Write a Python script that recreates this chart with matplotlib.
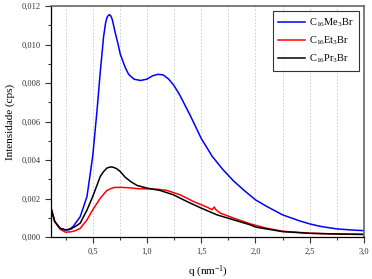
import matplotlib
matplotlib.use('Agg')
import matplotlib.pyplot as plt
from matplotlib.ticker import MultipleLocator, FuncFormatter

plt.rcParams['font.family'] = ['Liberation Serif', 'DejaVu Serif']
plt.rcParams['mathtext.fontset'] = 'custom'
plt.rcParams['mathtext.rm'] = 'Liberation Serif'
plt.rcParams['mathtext.it'] = 'Liberation Serif:italic'

# values
q_me = [0.12, 0.15, 0.2, 0.25, 0.28, 0.32, 0.385, 0.447, 0.5, 0.54, 0.57, 0.6,
        0.618, 0.631, 0.643, 0.655, 0.667, 0.68, 0.708, 0.73, 0.754, 0.78, 0.8,
        0.83, 0.88, 0.94, 1.0, 1.05, 1.1, 1.15, 1.2, 1.245, 1.3, 1.4, 1.5, 1.6,
        1.7, 1.8, 1.9, 2.0, 2.1, 2.25, 2.4, 2.5, 2.6, 2.75, 2.9, 3.0]
i_me = [0.00141, 0.0008, 0.00045, 0.00037, 0.00037, 0.00055, 0.00106, 0.0021,
        0.0042, 0.0066, 0.0086, 0.0104, 0.0111, 0.0114, 0.0115, 0.01155, 0.01148,
        0.0113, 0.0106, 0.0101, 0.0095, 0.0091, 0.0088, 0.00846, 0.0082,
        0.00813, 0.0082, 0.00837, 0.00845, 0.00842, 0.0082, 0.0079, 0.0074,
        0.0063, 0.00512, 0.0042, 0.0035, 0.0029, 0.0024, 0.00193, 0.0016,
        0.00115, 0.00085, 0.00068, 0.00055, 0.00042, 0.00036, 0.00033]

q_et = [0.12, 0.15, 0.2, 0.25, 0.3, 0.34, 0.385, 0.447, 0.5, 0.57, 0.631, 0.692,
        0.754, 0.83, 0.92, 1.006, 1.1, 1.184, 1.307, 1.43, 1.553, 1.6, 1.62,
        1.635, 1.676, 1.8, 1.953, 2.1, 2.25, 2.5, 2.75, 3.0]
i_et = [0.00141, 0.0008, 0.0004, 0.00025, 0.00027, 0.00033, 0.00045, 0.00089,
        0.00141, 0.00202, 0.00242, 0.00257, 0.00258, 0.00256, 0.00251, 0.0025,
        0.00248, 0.00242, 0.00219, 0.00184, 0.00155, 0.00142, 0.00156, 0.00142,
        0.00124, 0.00098, 0.00068, 0.00046, 0.0003, 0.0002, 0.00015, 0.00013]

q_pr = [0.12, 0.15, 0.2, 0.246, 0.3, 0.34, 0.385, 0.447, 0.5, 0.54, 0.57, 0.6,
        0.631, 0.655, 0.677, 0.7, 0.72, 0.754, 0.8, 0.85, 0.908, 1.0, 1.12,
        1.245, 1.37, 1.5, 1.646, 1.8, 1.953, 2.0, 2.1, 2.25, 2.5, 2.75, 3.0]
i_pr = [0.00141, 0.0008, 0.00045, 0.00037, 0.00042, 0.00055, 0.00072, 0.0014,
        0.0021, 0.0027, 0.00315, 0.0034, 0.00358, 0.00363, 0.00364, 0.0036,
        0.00355, 0.0034, 0.0031, 0.00288, 0.00268, 0.00254, 0.00242, 0.00219,
        0.00184, 0.0015, 0.00115, 0.00089, 0.00063, 0.00052, 0.00042, 0.00028,
        0.00019, 0.00016, 0.00014]

labels = [r'C$_{16}$Me$_3$Br', r'C$_{16}$Et$_3$Br', r'C$_{16}$Pr$_3$Br']

fig = plt.figure(figsize=(3.72, 2.79), dpi=100)
ax = fig.add_axes([0.1384, 0.1505, 0.8401, 0.828])

ax.plot(q_me, i_me, color='#0000ff', lw=1.1, label=labels[0])
ax.plot(q_et, i_et, color='#ff0000', lw=1.1, label=labels[1])
ax.plot(q_pr, i_pr, color='black', lw=1.1, label=labels[2])

ax.set_xlim(0.12, 3.0)
ax.set_ylim(0, 0.012)
ax.xaxis.set_major_locator(MultipleLocator(0.5))
ax.xaxis.set_minor_locator(MultipleLocator(0.25))
ax.yaxis.set_major_locator(MultipleLocator(0.002))
ax.yaxis.set_minor_locator(MultipleLocator(0.001))
ax.xaxis.set_major_formatter(FuncFormatter(lambda v, p: f'{v:.1f}'.replace('.', ',')))
ax.yaxis.set_major_formatter(FuncFormatter(lambda v, p: f'{v:.3f}'.replace('.', ',')))

ax.grid(True, axis='x', which='both', color='#c8c8c8', ls=(0, (2, 2)), lw=0.6)
ax.tick_params(which='major', direction='out', length=4, width=0.8, labelsize=6, colors='#333333')
ax.tick_params(which='minor', direction='out', length=2.5, width=0.8, colors='#333333')

for side in ['left', 'bottom']:
    ax.spines[side].set_color('black')
    ax.spines[side].set_linewidth(0.9)
for side in ['top', 'right']:
    ax.spines[side].set_color('#666666')
    ax.spines[side].set_linewidth(1.2)

ax.set_xlabel(r'q (nm$^{-1}$)', fontsize=8, labelpad=6)
ax.set_ylabel('Intensidade (cps)', fontsize=8, labelpad=5)

leg = ax.legend(loc='upper right', fontsize=7.5, frameon=True, fancybox=False,
                edgecolor='black', handlelength=2.6, handletextpad=0.4,
                borderaxespad=0.5, labelspacing=0.55, borderpad=0.5)
leg.get_frame().set_linewidth(0.8)

fig.savefig('out.png', dpi=100)
